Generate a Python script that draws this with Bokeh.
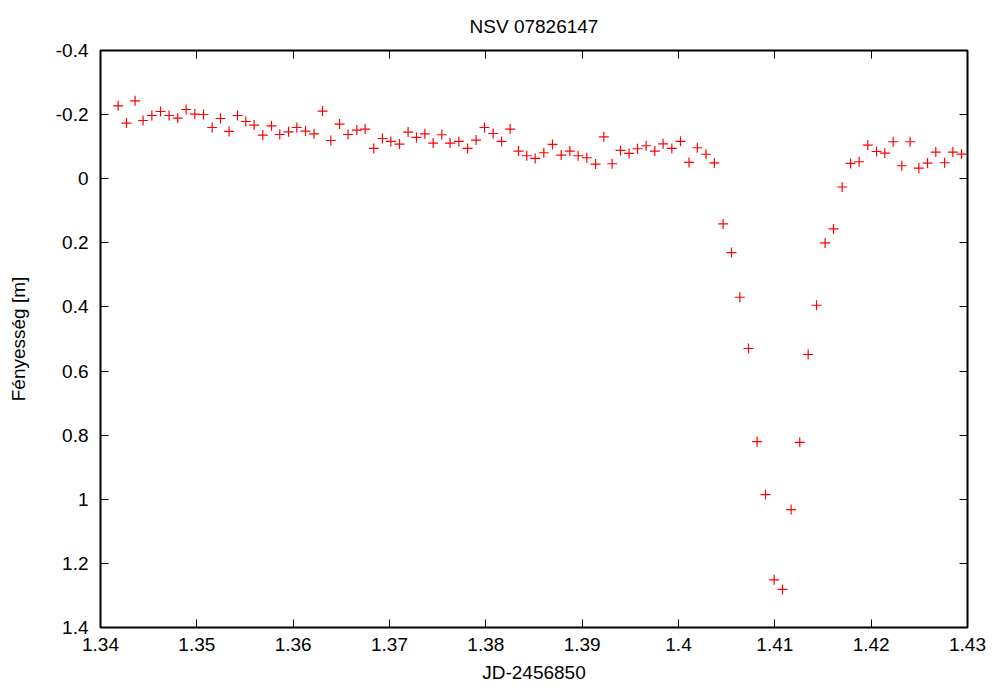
from bokeh.plotting import figure
from bokeh.models import Range1d, LinearAxis, FixedTicker, ColumnDataSource, CustomJSTickFormatter
from bokeh.embed import file_html
from bokeh.resources import INLINE

title_text = "NSV 07826147"
x_label = "JD-2456850"
y_label = "Fényesség [m]"

jd = [1.34183, 1.34270, 1.34359, 1.34442, 1.34533, 1.34623, 1.34712, 1.34802, 1.34889, 1.34979,
      1.35069, 1.35159, 1.35246, 1.35335, 1.35422, 1.35508, 1.35595, 1.35685, 1.35775, 1.35861,
      1.35952, 1.36038, 1.36128, 1.36217, 1.36305, 1.36391, 1.36481, 1.36570, 1.36661, 1.36747,
      1.36837, 1.36927, 1.37014, 1.37104, 1.37193, 1.37280, 1.37367, 1.37453, 1.37543, 1.37629,
      1.37720, 1.37810, 1.37899, 1.37986, 1.38076, 1.38163, 1.38252, 1.38339, 1.38425, 1.38512,
      1.38602, 1.38692, 1.38782, 1.38872, 1.38958, 1.39048, 1.39139, 1.39225, 1.39311, 1.39398,
      1.39487, 1.39575, 1.39664, 1.39754, 1.39840, 1.39931, 1.40021, 1.40109, 1.40195, 1.40286,
      1.40372, 1.40463, 1.40550, 1.40637, 1.40727, 1.40816, 1.40903, 1.40993, 1.41080, 1.41169,
      1.41259, 1.41346, 1.41433, 1.41522, 1.41609, 1.41699, 1.41786, 1.41875, 1.41965, 1.42056,
      1.42142, 1.42228, 1.42318, 1.42404, 1.42495, 1.42585, 1.42671, 1.42762, 1.42848, 1.42938]

mag = [-0.2274, -0.1735, -0.2430, -0.1816, -0.1972, -0.2097, -0.1972, -0.1891, -0.2159, -0.2016,
       -0.2003, -0.1598, -0.1879, -0.1474, -0.1972, -0.1785, -0.1673, -0.1361, -0.1651, -0.1380,
       -0.1464, -0.1598, -0.1486, -0.1402, -0.2109, -0.1193, -0.1704, -0.1380, -0.1517, -0.1548,
       -0.0944, -0.1255, -0.1162, -0.1081, -0.1455, -0.1287, -0.1402, -0.1112, -0.1371, -0.1112,
       -0.1162, -0.0944, -0.1206, -0.1598, -0.1411, -0.1162, -0.1548, -0.0863, -0.0717, -0.0632,
       -0.0810, -0.1069, -0.0738, -0.0863, -0.0717, -0.0654, -0.0458, -0.1308, -0.0467, -0.0882,
       -0.0788, -0.0935, -0.1028, -0.0863, -0.1090, -0.0944, -0.1168, -0.0508, -0.0966, -0.0763,
       -0.0492, 0.1411, 0.2305, 0.3698, 0.5296, 0.8202, 0.9854, 1.2514, 1.2813, 1.0321,
       0.8224, 0.5483, 0.3947, 0.2003, 0.1567, 0.0259, -0.0477, -0.0530, -0.1050, -0.0850,
       -0.0801, -0.1153, -0.0405, -0.1153, -0.0333, -0.0489, -0.0832, -0.0498, -0.0832, -0.0769]

x_ticks = [1.34, 1.35, 1.36, 1.37, 1.38, 1.39, 1.40, 1.41, 1.42, 1.43]
x_tick_labels = ["1.34", "1.35", "1.36", "1.37", "1.38", "1.39", "1.4", "1.41", "1.42", "1.43"]
y_ticks = [-0.4, -0.2, 0.0, 0.2, 0.4, 0.6, 0.8, 1.0, 1.2, 1.4]
y_tick_labels = ["-0.4", "-0.2", "0", "0.2", "0.4", "0.6", "0.8", "1", "1.2", "1.4"]

FONT = "Liberation Sans"
FS = "19px"

p = figure(width=995, height=688, output_backend="svg", toolbar_location=None,
           x_range=Range1d(1.34, 1.43), y_range=Range1d(1.4, -0.4),
           min_border_left=100, min_border_right=28, min_border_top=49, min_border_bottom=61,
           title=title_text)
p.background_fill_color = "white"
p.border_fill_color = "white"
p.outline_line_color = "black"
p.outline_line_width = 2
p.grid.visible = False

p.title.align = "center"
p.title.text_font = FONT
p.title.text_font_size = FS
p.title.text_font_style = "normal"
p.title.text_color = "black"
p.title.standoff = 27

xt = FixedTicker(ticks=x_ticks)
yt = FixedTicker(ticks=y_ticks)

def style_axis(ax, ticker, labels):
    ax.ticker = ticker
    ax.major_tick_in = 8
    ax.major_tick_out = 0
    ax.minor_tick_line_color = None
    ax.major_tick_line_color = "black"
    ax.major_tick_line_width = 1
    ax.axis_line_color = None
    ax.major_label_text_font = FONT
    ax.major_label_text_font_size = FS
    ax.major_label_text_color = "black"
    ax.axis_label_text_font = FONT
    ax.axis_label_text_font_size = FS
    ax.axis_label_text_font_style = "normal"
    ax.axis_label_text_color = "black"
    if labels is not None:
        ax.major_label_overrides = {t: l for t, l in zip(ticker.ticks, labels)}

style_axis(p.xaxis[0], xt, x_tick_labels)
style_axis(p.yaxis[0], yt, y_tick_labels)
p.xaxis[0].axis_label = x_label
p.yaxis[0].axis_label = y_label
p.xaxis[0].major_label_standoff = 10
p.yaxis[0].major_label_standoff = 12
p.xaxis[0].axis_label_standoff = 8
p.yaxis[0].axis_label_standoff = 24

# mirrored tick marks (gnuplot style) without labels
top = LinearAxis(formatter=CustomJSTickFormatter(code="return ''"))
style_axis(top, FixedTicker(ticks=x_ticks), None)
top.major_label_standoff = 0
p.add_layout(top, "above")
right = LinearAxis(formatter=CustomJSTickFormatter(code="return ''"))
style_axis(right, FixedTicker(ticks=y_ticks), None)
right.major_label_standoff = 0
p.add_layout(right, "right")

src = ColumnDataSource(data=dict(jd=jd, mag=mag))
p.scatter("jd", "mag", source=src, marker="cross", size=10, line_color="#ff0000", line_width=1.2)

open("out.html", "w").write(file_html(p, INLINE))
